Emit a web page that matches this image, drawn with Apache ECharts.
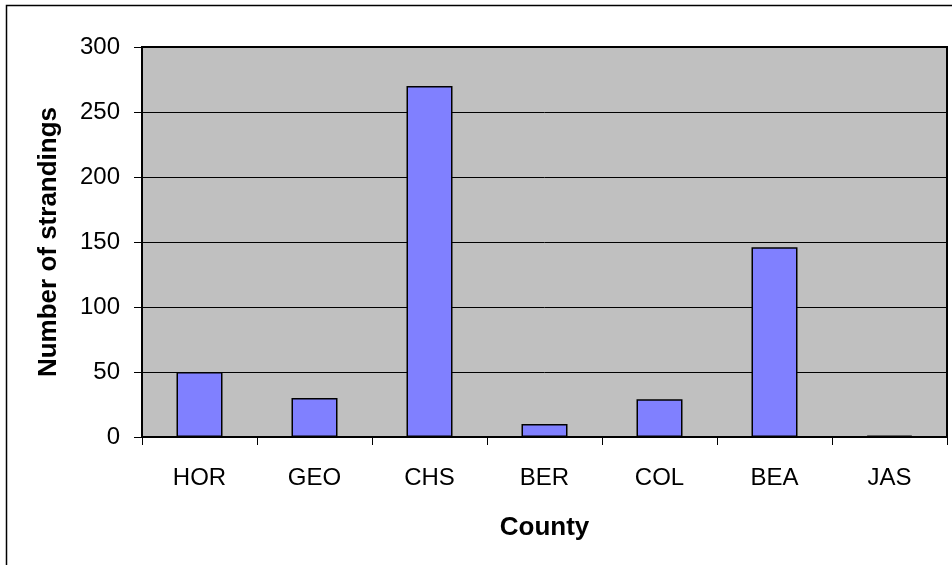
<!DOCTYPE html>
<html>
<head>
<meta charset="utf-8">
<script src="https://cdn.jsdelivr.net/npm/echarts@6/dist/echarts.min.js"></script>
<style>
html,body{margin:0;padding:0;background:#fff;}
#chart{width:952px;height:565px;}
</style>
</head>
<body>
<div id="chart"></div>
<script>
const categories = ['HOR', 'GEO', 'CHS', 'BER', 'COL', 'BEA', 'JAS'];
const strandings = [50, 30, 270, 10, 29, 146, 1];
const yTicks = { min: 0, max: 300, interval: 50 };
const xTitle = 'County';
const yTitle = 'Number of strandings';

const chart = echarts.init(document.getElementById('chart'), null, { renderer: 'canvas' });
const font = 'Arial, "Liberation Sans", sans-serif';
chart.setOption({
  animation: false,
  backgroundColor: '#ffffff',
  graphic: [{
    type: 'rect',
    shape: { x: 6.5, y: 5.5, width: 1000, height: 700 },
    style: { fill: 'none', stroke: '#000', lineWidth: 1.5 },
    silent: true,
    z: -10
  }],
  grid: {
    left: 142, right: 5, top: 47, bottom: 128,
    show: true, backgroundColor: '#C0C0C0', borderColor: '#000', borderWidth: 2
  },
  xAxis: {
    type: 'category',
    data: categories,
    boundaryGap: true,
    name: xTitle,
    nameLocation: 'middle',
    nameGap: 78,
    nameTextStyle: { fontFamily: font, fontSize: 26, fontWeight: 'bold', color: '#000' },
    axisLine: { show: true, lineStyle: { color: '#000', width: 2 } },
    axisTick: { show: true, interval: 0, length: 8, lineStyle: { color: '#000' } },
    axisLabel: { interval: 0, margin: 29, fontFamily: font, fontSize: 24, color: '#000' },
    splitLine: { show: false }
  },
  yAxis: {
    type: 'value',
    min: yTicks.min, max: yTicks.max, interval: yTicks.interval,
    name: yTitle,
    nameLocation: 'middle',
    nameGap: 80,
    nameTextStyle: { fontFamily: font, fontSize: 26, fontWeight: 'bold', color: '#000' },
    axisLine: { show: true, lineStyle: { color: '#000', width: 1.5 } },
    axisTick: { show: true, length: 8, lineStyle: { color: '#000' } },
    axisLabel: { margin: 22, fontFamily: font, fontSize: 24, color: '#000' },
    splitLine: { show: true, lineStyle: { color: '#000', width: 1 } }
  },
  series: [{
    type: 'bar',
    data: strandings,
    barWidth: '40%',
    itemStyle: { color: '#8080FF', borderColor: '#000', borderWidth: 1.5 }
  }]
});
</script>
</body>
</html>
